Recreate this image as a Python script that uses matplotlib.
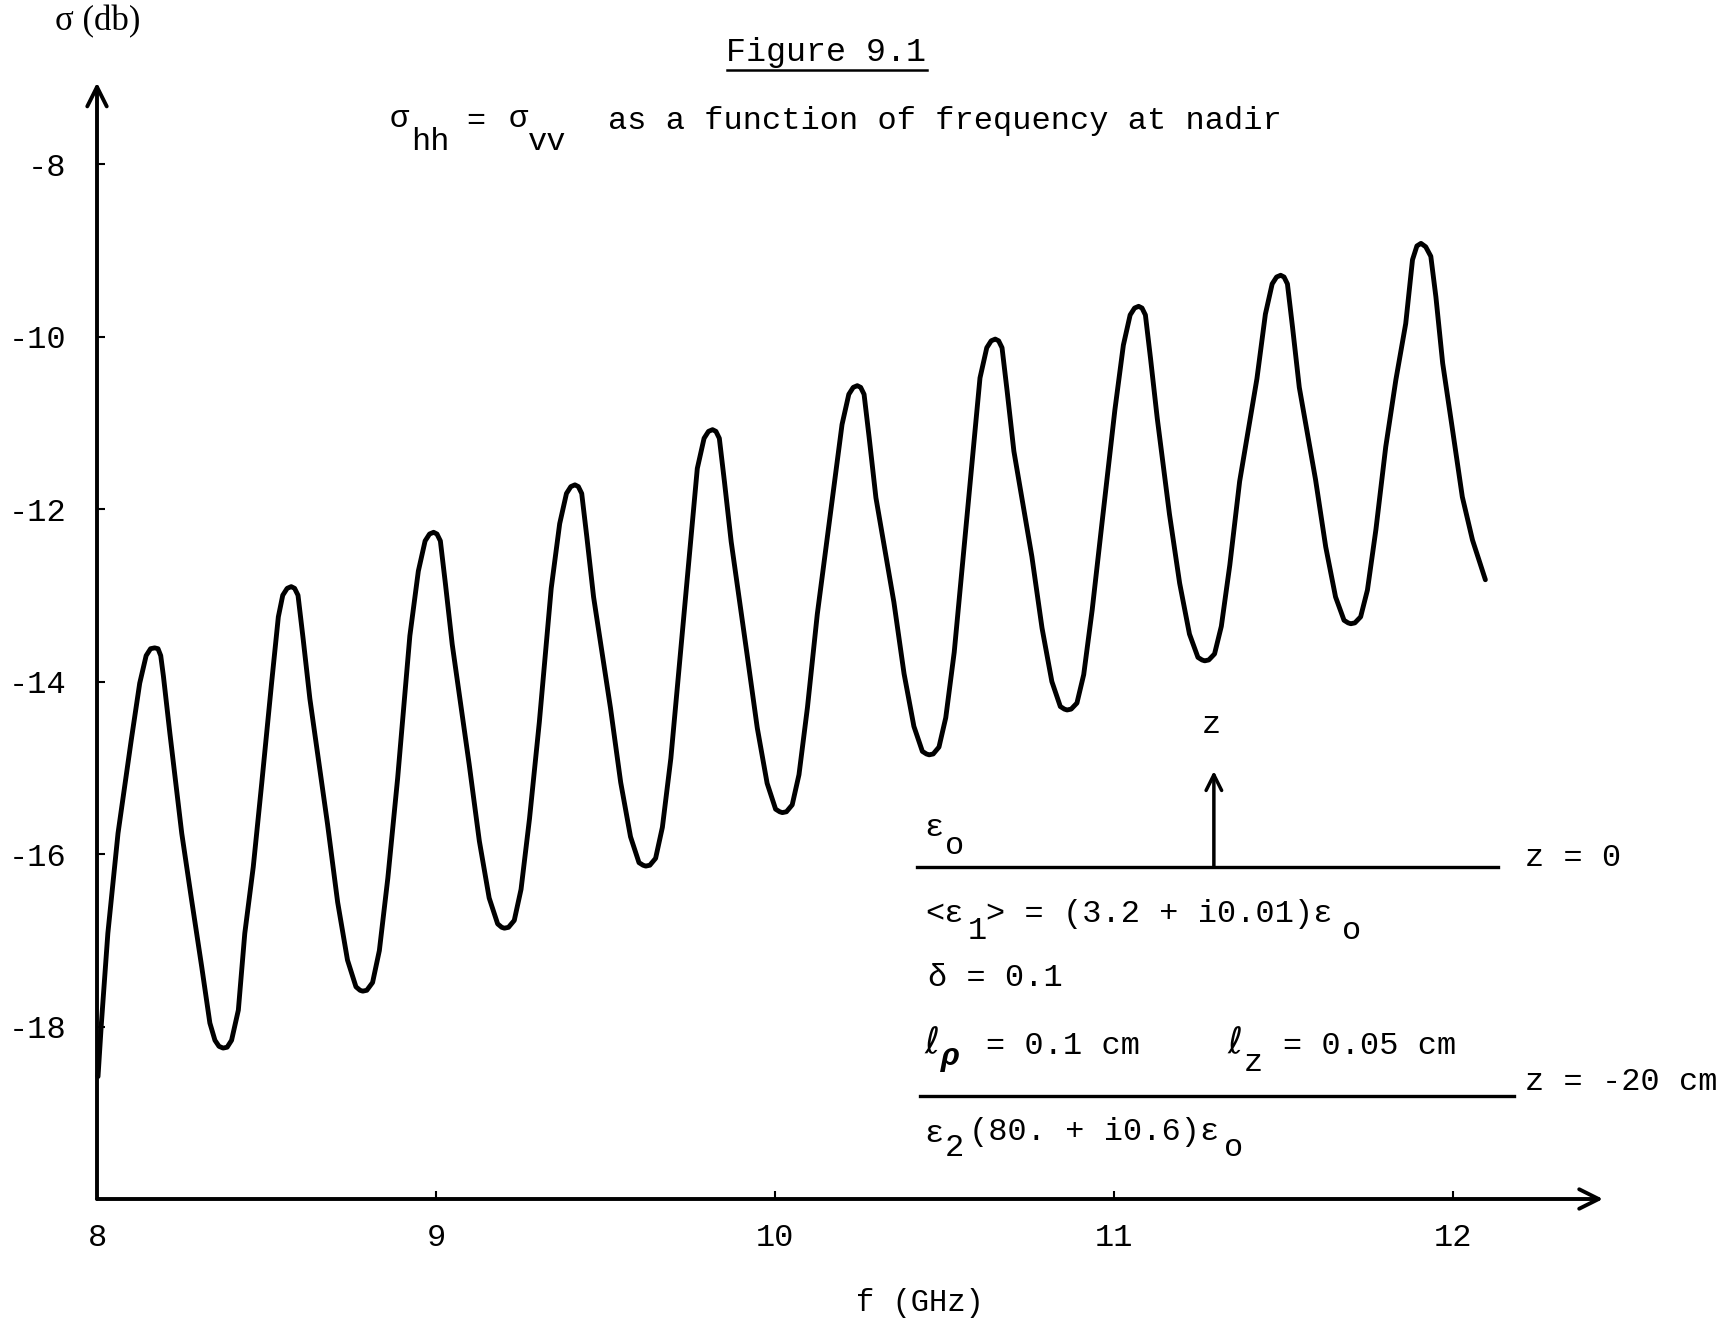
import matplotlib
matplotlib.use("Agg")
import matplotlib.pyplot as plt
from matplotlib.lines import Line2D

plt.rcParams["font.family"] = ["Liberation Mono", "DejaVu Sans Mono"]

# values (f in GHz, sigma in dB), one row per half cycle
freq = [8.003, 8.013, 8.032, 8.062, 8.101, 8.126, 8.145, 8.158,
        8.170, 8.180, 8.188, 8.196, 8.215, 8.250, 8.279, 8.309, 8.333, 8.348, 8.360,
        8.372, 8.384, 8.397, 8.417, 8.436, 8.461, 8.486, 8.515, 8.535, 8.548, 8.561,
        8.573, 8.583, 8.593, 8.608, 8.628,
        8.680, 8.710, 8.739, 8.764, 8.776, 8.784, 8.796, 8.813, 8.833, 8.858, 8.887,
        8.923, 8.948, 8.968, 8.981, 8.993, 9.003, 9.013, 9.028, 9.048,
        9.098, 9.128, 9.157, 9.182, 9.194, 9.202, 9.214, 9.231, 9.251, 9.276, 9.305,
        9.340, 9.365, 9.385, 9.398, 9.410, 9.420, 9.430, 9.445, 9.465,
        9.515, 9.545, 9.574, 9.599, 9.611, 9.619, 9.631, 9.648, 9.668, 9.693,
        9.771, 9.791, 9.804, 9.816, 9.826, 9.836, 9.851, 9.871,
        9.918, 9.948, 9.977, 10.002, 10.014, 10.022, 10.034, 10.051, 10.071, 10.096, 10.125,
        10.173, 10.198, 10.218, 10.231, 10.243, 10.253, 10.263, 10.278, 10.298,
        10.351, 10.381, 10.410, 10.435, 10.447, 10.455, 10.467, 10.484, 10.504, 10.529,
        10.605, 10.625, 10.638, 10.650, 10.660, 10.670, 10.685, 10.705,
        10.758, 10.788, 10.817, 10.842, 10.854, 10.862, 10.874, 10.891, 10.911, 10.936, 10.965,
        11.003, 11.028, 11.048, 11.061, 11.073, 11.083, 11.093, 11.108, 11.128,
        11.164, 11.194, 11.223, 11.248, 11.260, 11.268, 11.280, 11.297, 11.317, 11.342, 11.371,
        11.422, 11.447, 11.467, 11.480, 11.492, 11.502, 11.512, 11.527, 11.547,
        11.595, 11.625, 11.654, 11.679, 11.691, 11.699, 11.711, 11.728, 11.748, 11.773, 11.802,
        11.832, 11.861, 11.881, 11.894, 11.906, 11.920, 11.935, 11.950, 11.970,
        11.999, 12.028, 12.058, 12.096]

sigma = [-18.58, -17.96, -16.92, -15.76, -14.68, -14.02, -13.70, -13.62,
         -13.61, -13.62, -13.70, -13.94, -14.60, -15.76, -16.53, -17.31, -17.96, -18.16, -18.23,
         -18.25, -18.24, -18.16, -17.81, -16.92, -16.15, -15.18, -14.02, -13.25, -13.00, -12.92,
         -12.90, -12.92, -13.00, -13.50, -14.20,
         -15.65, -16.56, -17.23, -17.54, -17.58, -17.59, -17.58, -17.49, -17.12, -16.28, -15.12,
         -13.47, -12.72, -12.37, -12.29, -12.27, -12.29, -12.37, -12.87, -13.57,
         -14.96, -15.85, -16.51, -16.81, -16.85, -16.86, -16.85, -16.77, -16.41, -15.59, -14.47,
         -12.92, -12.17, -11.82, -11.74, -11.72, -11.74, -11.82, -12.32, -13.02,
         -14.31, -15.17, -15.80, -16.10, -16.13, -16.14, -16.13, -16.05, -15.69, -14.89,
         -11.53, -11.18, -11.10, -11.08, -11.10, -11.18, -11.68, -12.38,
         -13.69, -14.54, -15.18, -15.48, -15.51, -15.52, -15.51, -15.43, -15.08, -14.30, -13.22,
         -11.77, -11.02, -10.67, -10.59, -10.57, -10.59, -10.67, -11.17, -11.87,
         -13.08, -13.91, -14.52, -14.81, -14.84, -14.85, -14.84, -14.76, -14.42, -13.66,
         -10.48, -10.13, -10.05, -10.03, -10.05, -10.13, -10.63, -11.33,
         -12.55, -13.38, -14.00, -14.29, -14.32, -14.33, -14.32, -14.25, -13.92, -13.17, -12.16,
         -10.85, -10.10, -9.75, -9.67, -9.65, -9.67, -9.75, -10.25, -10.95,
         -12.06, -12.86, -13.45, -13.72, -13.75, -13.76, -13.75, -13.68, -13.36, -12.65, -11.68,
         -10.49, -9.74, -9.39, -9.31, -9.29, -9.31, -9.39, -9.89, -10.59,
         -11.66, -12.44, -13.02, -13.29, -13.32, -13.33, -13.32, -13.25, -12.94, -12.24, -11.28,
         -10.50, -9.85, -9.11, -8.95, -8.92, -8.96, -9.07, -9.54, -10.31,
         -11.08, -11.86, -12.36, -12.82]

x_ticks = [8, 9, 10, 11, 12]
x_labels = ["8", "9", "10", "11", "12"]
y_ticks = [-8, -10, -12, -14, -16, -18]
y_labels = ["-8", "-10", "-12", "-14", "-16", "-18"]

W, H = 1727, 1321
fig = plt.figure(figsize=(W / 100, H / 100), dpi=100)
ax = fig.add_axes([97 / W, 1 - 1199 / H, 1506 / W, (1199 - 82.6) / H])
ax.set_xlim(8, 12.443)
ax.set_ylim(-20, -7.056)

ax.plot(freq, sigma, color="black", lw=3.5, solid_joinstyle="round",
        solid_capstyle="round", clip_on=False)

# axes drawn as arrows, like the hand drawn original
for s in ax.spines.values():
    s.set_visible(False)
arr = dict(arrowstyle="->", lw=2.8, color="black", mutation_scale=35,
           shrinkA=0, shrinkB=0)
ax.annotate("", xy=(8, -7.056), xytext=(8, -20), arrowprops=arr,
            annotation_clip=False)
ax.annotate("", xy=(12.443, -20), xytext=(8, -20), arrowprops=arr,
            annotation_clip=False)

ax.set_xticks(x_ticks)
ax.set_xticklabels(x_labels)
ax.set_yticks(y_ticks)
ax.set_yticklabels(y_labels)
ax.tick_params(axis="both", direction="in", length=6, width=1.5, labelsize=23)
ax.tick_params(axis="y", pad=22)
ax.tick_params(axis="x", pad=17)


def put(px, py, s, size=23, ha="center", va="center", **kw):
    fig.text(px / W, 1 - py / H, s, fontsize=size, ha=ha, va=va, **kw)


# titles
put(98, 22, "σ (db)", size=25, family=["Liberation Serif", "DejaVu Serif"])
put(826, 53, "Figure 9.1", size=24)
fig.add_artist(Line2D([727 / W, 927 / W], [1 - 70 / H, 1 - 70 / H],
                      color="black", lw=1.8))
put(399, 119, "σ")
put(430, 142, "hh")
put(476, 121, "=")
put(518, 119, "σ")
put(547, 142, "vv")
put(608, 121, "as a function of frequency at nadir", ha="left")
put(920, 1303, "f (GHz)", size=22)

# layer sketch
ax.annotate("", xy=(8 + 1117 / 339, -8 - (771 - 164) / 86.25),
            xytext=(8 + 1117 / 339, -8 - (867 - 164) / 86.25),
            arrowprops=dict(arrowstyle="->", lw=2.5, color="black",
                            mutation_scale=28, shrinkA=0, shrinkB=0))
fig.add_artist(Line2D([917 / W, 1498 / W], [1 - 867 / H, 1 - 867 / H],
                      color="black", lw=2.4))
fig.add_artist(Line2D([920 / W, 1514 / W], [1 - 1096 / H, 1 - 1096 / H],
                      color="black", lw=2.4))
put(1211, 725, "z")
put(934, 828, "ε")
put(955, 846, "o")
put(1525, 858, "z = 0", ha="left")

put(925, 914, "<ε", ha="left")
put(977, 931, "1")
put(986, 914, "> = (3.2 + i0.01)ε", ha="left")
put(1352, 931, "o")

put(928, 978, "δ = 0.1", ha="left")

ell = ["DejaVu Sans", "DejaVu Serif", "Liberation Mono"]
put(932, 1043, "ℓ", size=26, family=ell)
put(951, 1057, "ρ", style="italic", weight="bold")
put(986, 1046, "= 0.1 cm", ha="left")
put(1235, 1043, "ℓ", size=26, family=ell)
put(1253, 1063, "z")
put(1283, 1046, "= 0.05 cm", ha="left")

put(1525, 1082, "z = -20 cm", ha="left")

put(934, 1134, "ε")
put(954, 1148, "2")
put(969, 1132, "(80. + i0.6)ε", ha="left")
put(1234, 1148, "o")

fig.savefig("out.png", dpi=100, facecolor="white")
